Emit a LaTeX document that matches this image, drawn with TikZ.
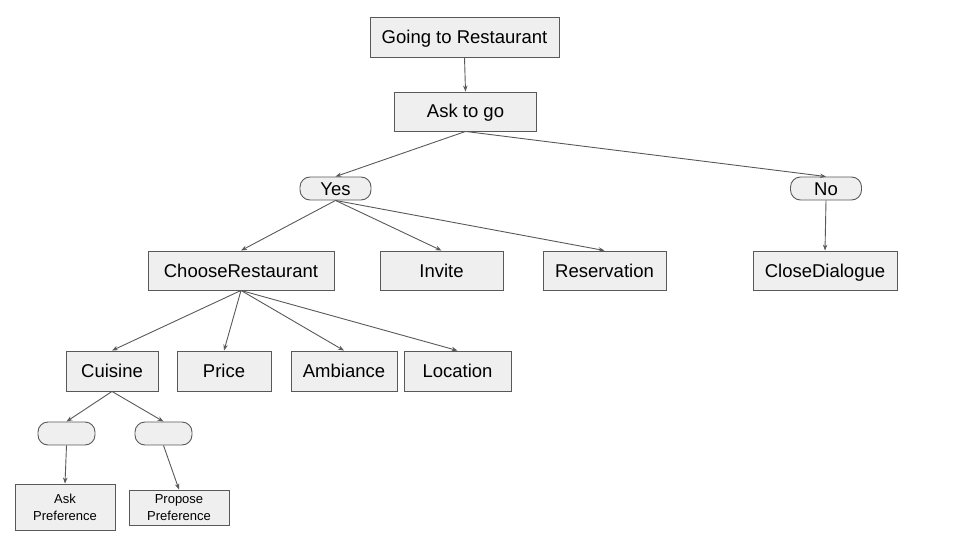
\documentclass[tikz,border=0pt]{standalone}
\usepackage{fontspec}
\setmainfont{Liberation Sans}
\usetikzlibrary{arrows.meta}
\definecolor{linegray}{HTML}{595959}
\definecolor{boxfill}{HTML}{EFEFEF}
\tikzset{
  box/.style={draw=linegray, fill=boxfill, line width=0.9pt, inner sep=0pt, anchor=center,
    font=\fontsize{18.5}{21}\selectfont, text height=15.5pt, text depth=2.5pt},
  pill/.style={box, rounded corners=10pt},
  smallbox/.style={draw=linegray, fill=boxfill, line width=0.9pt, inner sep=0pt, anchor=center,
    align=center, font=\fontsize{13}{17}\selectfont},
  conn/.style={draw=linegray, line width=0.9pt, -{Stealth[length=6pt,width=4.5pt]}}
}
\begin{document}
\begin{tikzpicture}[x=1pt,y=-1pt]
\useasboundingbox (0,0) rectangle (960,540);
\node[box, minimum width=189pt, minimum height=40pt] (going) at (464.5,37) {Going to Restaurant};
\node[box, minimum width=142pt, minimum height=39pt] (ask) at (465.5,111.5) {Ask to go};
\node[pill, minimum width=71pt, minimum height=23pt] (yes) at (335.5,188.5) {Yes};
\node[pill, minimum width=71pt, minimum height=23pt] (no) at (826,188.5) {No};
\node[box, minimum width=186pt, minimum height=39pt] (choose) at (241,270.5) {ChooseRestaurant};
\node[box, minimum width=123pt, minimum height=39pt] (invite) at (441.5,270.5) {Invite};
\node[box, minimum width=123pt, minimum height=39pt] (reserv) at (604.5,270.5) {Reservation};
\node[box, minimum width=144pt, minimum height=39pt] (close) at (825,270.5) {CloseDialogue};
\node[box, minimum width=92pt, minimum height=40pt] (cuisine) at (112,371) {Cuisine};
\node[box, minimum width=94pt, minimum height=40pt] (price) at (224,371) {Price};
\node[box, minimum width=106pt, minimum height=40pt] (ambiance) at (344,371) {Ambiance};
\node[box, minimum width=107pt, minimum height=40pt] (location) at (457.5,371) {Location};
\node[pill, minimum width=57pt, minimum height=23pt] (blank1) at (66.5,433.5) {};
\node[pill, minimum width=57pt, minimum height=23pt] (blank2) at (163.5,433.5) {};
\node[smallbox, minimum width=100pt, minimum height=46pt] (askpref) at (65,507) {Ask\\Preference};
\node[smallbox, minimum width=100pt, minimum height=35pt] (proppref) at (179,507.5) {Propose\\Preference};
\draw[conn] (going.south) -- (ask.north);
\draw[conn] (ask.south) -- (yes.north);
\draw[conn] (ask.south) -- (no.north);
\draw[conn] (yes.south) -- (choose.north);
\draw[conn] (yes.south) -- (invite.north);
\draw[conn] (yes.south) -- (reserv.north);
\draw[conn] (no.south) -- (close.north);
\draw[conn] (choose.south) -- (cuisine.north);
\draw[conn] (choose.south) -- (price.north);
\draw[conn] (choose.south) -- (ambiance.north);
\draw[conn] (choose.south) -- (location.north);
\draw[conn] (cuisine.south) -- (blank1.north);
\draw[conn] (cuisine.south) -- (blank2.north);
\draw[conn] (blank1.south) -- (askpref.north);
\draw[conn] (blank2.south) -- (proppref.north);
\end{tikzpicture}
\end{document}
